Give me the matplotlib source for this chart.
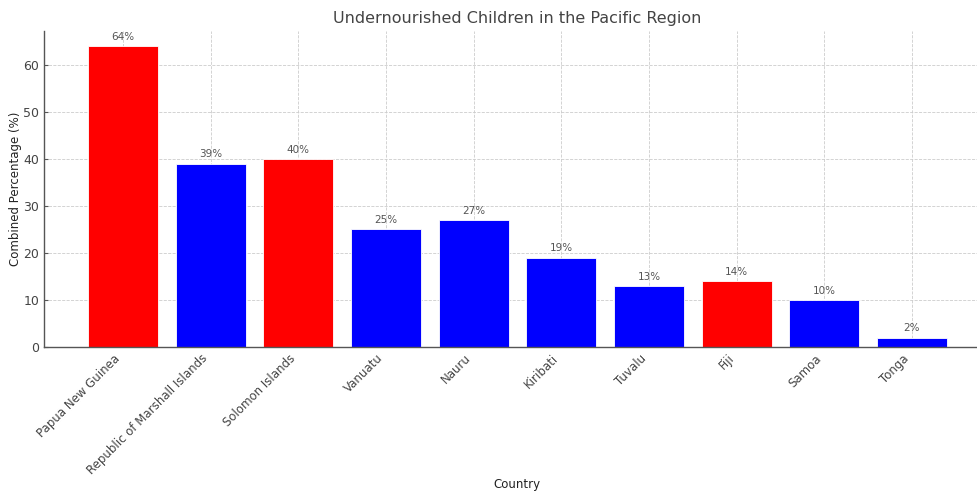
import matplotlib
matplotlib.use("Agg")
import matplotlib.pyplot as plt

countries = ["Papua New Guinea", "Republic of Marshall Islands", "Solomon Islands",
             "Vanuatu", "Nauru", "Kiribati", "Tuvalu", "Fiji", "Samoa", "Tonga"]
percentages = [64, 39, 40, 25, 27, 19, 13, 14, 10, 2]
colors = ["red", "blue", "red", "blue", "blue", "blue", "blue", "red", "blue", "blue"]

text_color = "#444444"
plt.rcParams["font.family"] = "DejaVu Sans"

fig = plt.figure(figsize=(9.78, 4.91), dpi=100)
ax = fig.add_axes([44 / 978, 1 - 347 / 491, 946 / 978, 316 / 491])

x = range(len(countries))
bars = ax.bar(x, percentages, color=colors, width=0.8, edgecolor="white", linewidth=0.6, zorder=2)

for rect, val in zip(bars, percentages):
    ax.annotate(f"{val}%", (rect.get_x() + rect.get_width() / 2, rect.get_height()),
                xytext=(0, 3), textcoords="offset points", ha="center", va="bottom",
                fontsize=7.5, color="#555555")

ax.set_xticks(list(x))
ax.set_xticklabels(countries, rotation=45, ha="right", fontsize=8.5, color=text_color)
ax.tick_params(axis="y", labelsize=9, labelcolor=text_color)
ax.tick_params(axis="both", direction="in", length=3, color="#555555")
ax.set_ylim(0, 67.2)
ax.set_xlim(-0.9, 9.89)
ax.set_yticks([0, 10, 20, 30, 40, 50, 60])

ax.grid(True, linestyle="--", color="#cccccc", linewidth=0.6, zorder=0)
ax.set_axisbelow(True)
for side in ["top", "right"]:
    ax.spines[side].set_visible(False)
for side in ["left", "bottom"]:
    ax.spines[side].set_color("#555555")
    ax.spines[side].set_linewidth(1.0)

ax.set_title("Undernourished Children in the Pacific Region", fontsize=11.5, color=text_color, pad=6)
ax.set_xlabel("Country", fontsize=8.5, color="#222222", va="center")
ax.set_ylabel("Combined Percentage (%)", fontsize=8.5, color="#222222", va="center")
ax.xaxis.set_label_coords(0.5, -0.434)
ax.yaxis.set_label_coords(-0.0296, 0.5)

fig.savefig("out.png", dpi=100)
